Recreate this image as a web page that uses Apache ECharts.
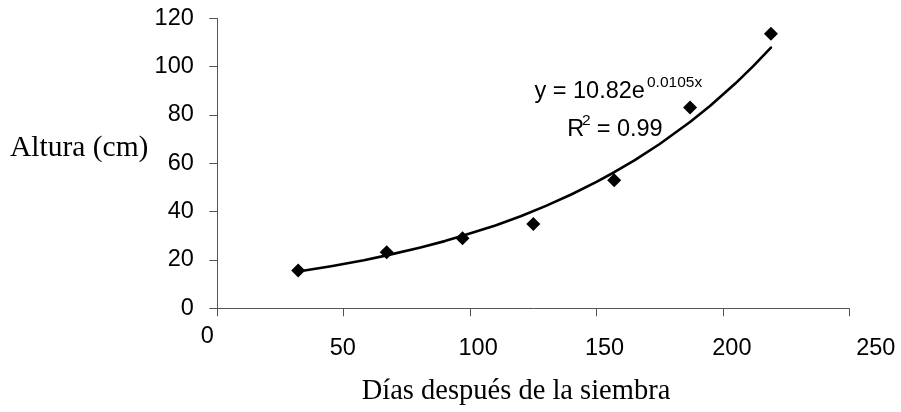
<!DOCTYPE html>
<html><head><meta charset="utf-8">
<script src="https://cdn.jsdelivr.net/npm/echarts@6/dist/echarts.min.js"></script>
<style>html,body{margin:0;padding:0;background:#fff}#c{width:901px;height:412px}</style>
</head><body><div id="c"></div>
<script>
// Observed data (days after sowing, height in cm)
const dias = [32, 67, 97, 125, 157, 187, 219];
const altura = [15.6, 23.2, 29.0, 34.9, 53.0, 83.1, 113.6];
// Trend line
const trendDias = [32, 45, 58, 67, 80, 90, 97, 110, 120, 130, 140, 150, 157, 165, 175, 187, 195, 205, 212, 219];
const trendAltura = [15.2, 17.4, 19.9, 21.9, 25.1, 27.8, 30.0, 34.3, 38.1, 42.4, 47.1, 52.3, 56.3, 61.2, 68.0, 77.1, 83.8, 93.1, 100.2, 107.9];
// Axis ticks
const xTicks = [0, 50, 100, 150, 200, 250];
const yTicks = [0, 20, 40, 60, 80, 100, 120];
// Texts
const yTitle = 'Altura (cm)';
const xTitle = 'Días después de la siembra';
const eqMain = 'y = 10.82e';
const eqExp = '0.0105x';
const r2Main = 'R';
const r2Sup = '2';
const r2Val = '= 0.99';

const SANS = '"Liberation Sans", Arial, sans-serif';
const SERIF = '"Liberation Serif", "Times New Roman", serif';
const FS = 23.5;
const base = {fontSize: FS, fontFamily: SANS, color: '#000', lineHeight: 24};
const rich = {
  r0: Object.assign({}, base, {padding: [0, 20, 0, 0]}),
  r50: Object.assign({}, base, {padding: [23, 2, 0, 0]}),
  r100: Object.assign({}, base, {padding: [23, 0, 0, 16]}),
  r150: Object.assign({}, base, {padding: [23, 0, 0, 16]}),
  r200: Object.assign({}, base, {padding: [23, 0, 0, 18]}),
  r250: Object.assign({}, base, {padding: [23, 0, 0, 53]})
};

const chart = echarts.init(document.getElementById('c'), null, {renderer: 'canvas'});
const axisColor = '#555';
chart.setOption({
  animation: false,
  backgroundColor: '#fff',
  grid: {left: 217.3, top: 18.3, width: 632, height: 290, containLabel: false},
  xAxis: {
    type: 'value', min: xTicks[0], max: xTicks[xTicks.length - 1], interval: 50,
    axisLine: {show: true, onZero: false, lineStyle: {color: axisColor, width: 1}},
    axisTick: {show: true, inside: false, length: 8, lineStyle: {color: axisColor}},
    splitLine: {show: false},
    axisLabel: {
      margin: 16.5,
      formatter: v => '{r' + v + '|' + v + '}',
      rich: rich
    }
  },
  yAxis: {
    type: 'value', min: yTicks[0], max: yTicks[yTicks.length - 1], interval: 20,
    axisLine: {show: true, lineStyle: {color: axisColor, width: 1}},
    axisTick: {show: true, inside: false, length: 8, lineStyle: {color: axisColor}},
    splitLine: {show: false},
    axisLabel: {margin: 23.5, fontSize: FS, fontFamily: SANS, color: '#000', padding: [6, 0, 0, 0]}
  },
  series: [
    {
      type: 'line', data: trendDias.map((d, i) => [d, trendAltura[i]]),
      showSymbol: false, smooth: false,
      lineStyle: {color: '#000', width: 2.6, join: 'round', cap: 'round'}, z: 2, silent: true
    },
    {
      type: 'scatter', data: dias.map((d, i) => [d, altura[i]]),
      symbol: 'diamond', symbolSize: 14, itemStyle: {color: '#000', opacity: 1}, z: 3
    }
  ],
  graphic: [
    {type: 'text', style: {x: 10, y: 148, text: yTitle, font: '29.5px ' + SERIF, fill: '#000', align: 'left', verticalAlign: 'middle'}},
    {type: 'text', style: {x: 516, y: 392, text: xTitle, font: '28.5px ' + SERIF, fill: '#000', align: 'center', verticalAlign: 'middle'}},
    {type: 'text', style: {x: 534.5, y: 92, text: eqMain, font: FS + 'px ' + SANS, fill: '#000', align: 'left', verticalAlign: 'middle'}},
    {type: 'text', style: {x: 647, y: 82.5, text: eqExp, font: '15.5px ' + SANS, fill: '#000', align: 'left', verticalAlign: 'middle'}},
    {type: 'text', style: {x: 567.3, y: 129.4, text: r2Main, font: FS + 'px ' + SANS, fill: '#000', align: 'left', verticalAlign: 'middle'}},
    {type: 'text', style: {x: 582, y: 120.5, text: r2Sup, font: '15.5px ' + SANS, fill: '#000', align: 'left', verticalAlign: 'middle'}},
    {type: 'text', style: {x: 596.7, y: 129.4, text: r2Val, font: FS + 'px ' + SANS, fill: '#000', align: 'left', verticalAlign: 'middle'}}
  ]
});
</script>
</body></html>
